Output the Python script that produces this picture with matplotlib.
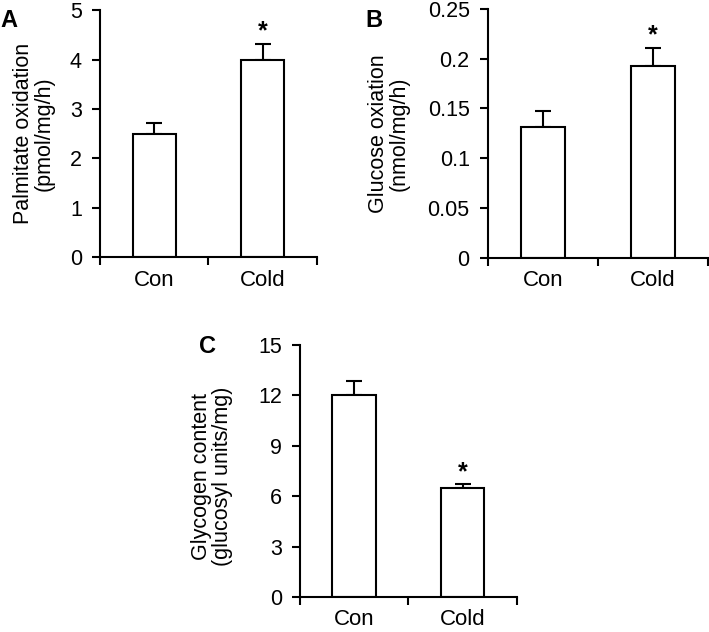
import numpy as np
import matplotlib
matplotlib.use("Agg")
import matplotlib.pyplot as plt

plt.rcParams['font.family'] = ['Liberation Sans', 'DejaVu Sans']

groups = ['Con', 'Cold']

palm_mean = [2.5, 4.0]
palm_err = [0.22, 0.32]

gluc_mean = [0.131, 0.193]
gluc_err = [0.016, 0.018]

glyc_mean = [12.0, 6.5]
glyc_err = [0.85, 0.2]

fig = plt.figure(figsize=(7.09, 6.32), dpi=100)
lw = 1.5

def bar_panel(rect, means, errs, ylim, yticks, ticklabels, ylabel, label_x, label_y, star_off):
    ax = fig.add_axes(rect)
    x = np.arange(len(groups))
    ax.bar(x, means, width=0.4, color='white', edgecolor='black', linewidth=lw, zorder=2)
    # only the upper half of the error bar
    ax.errorbar(x, means, yerr=[np.zeros(len(means)), errs], fmt='none',
                ecolor='black', elinewidth=lw, capsize=6, capthick=lw, zorder=1)
    # significance star over Cold
    ax.text(1, means[1] + errs[1] + star_off, '*', ha='center', va='center',
            fontsize=18, fontweight='bold')
    ax.set_xlim(-0.5, 1.5)
    ax.set_ylim(*ylim)
    ax.set_yticks(yticks)
    ax.set_yticklabels(ticklabels)
    ax.set_xticks([-0.5, 0.5, 1.5])
    ax.set_xticklabels([])
    ax.set_xticks(x, minor=True)
    ax.set_xticklabels(groups, minor=True)
    ax.tick_params(axis='x', which='minor', length=0, pad=9, labelsize=16)
    ax.tick_params(axis='x', which='major', direction='out', length=6, width=lw)
    ax.tick_params(axis='y', direction='out', length=6, width=lw, labelsize=15.5, pad=7)
    for s in ['top', 'right']:
        ax.spines[s].set_visible(False)
    for s in ['left', 'bottom']:
        ax.spines[s].set_linewidth(lw)
    ax.set_ylabel(ylabel, fontsize=15.5, linespacing=1.0)
    ax.yaxis.set_label_coords(label_x, label_y)
    return ax

axA = bar_panel([0.141, 0.593, 0.306, 0.391], palm_mean, palm_err, (0, 5),
                [0, 1, 2, 3, 4, 5], ['0', '1', '2', '3', '4', '5'],
                'Palmitate oxidation\n(pmol/mg/h)', -0.207, 0.5, 0.25)
axB = bar_panel([0.688, 0.592, 0.310, 0.394], gluc_mean, gluc_err, (0, 0.25),
                [0, 0.05, 0.1, 0.15, 0.2, 0.25], ['0', '0.05', '0.1', '0.15', '0.2', '0.25'],
                'Glucose oxiation\n(nmol/mg/h)', -0.355, 0.5, 0.0125)
axC = bar_panel([0.423, 0.0554, 0.306, 0.3986], glyc_mean, glyc_err, (0, 15),
                [0, 3, 6, 9, 12, 15], ['0', '3', '6', '9', '12', '15'],
                'Glycogen content\n(glucosyl units/mg)', -0.31, 0.48, 0.75)

fig.text(0.0, 0.985, 'A', fontsize=17, fontweight='bold', va='top', ha='left')
fig.text(0.515, 0.985, 'B', fontsize=17, fontweight='bold', va='top', ha='left')
fig.text(0.28, 0.47, 'C', fontsize=17, fontweight='bold', va='top', ha='left')

fig.savefig('out.png', dpi=100)
